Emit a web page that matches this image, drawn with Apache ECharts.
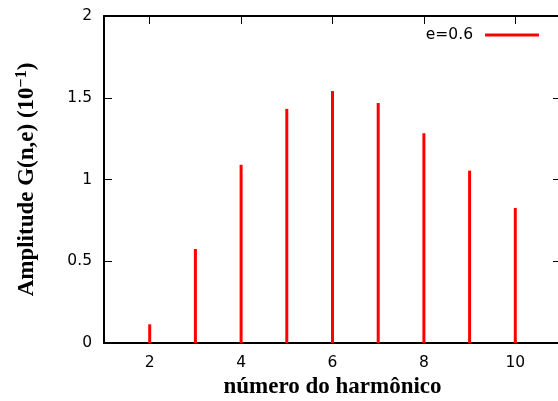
<!DOCTYPE html>
<html>
<head>
<meta charset="utf-8">
<script src="https://cdn.jsdelivr.net/npm/echarts@6/dist/echarts.min.js"></script>
<style>
html,body{margin:0;padding:0;background:#fff;}
#chart{width:558px;height:401px;}
</style>
</head>
<body>
<div id="chart"></div>
<script>
const harmonics = [2, 3, 4, 5, 6, 7, 8, 9, 10];
const amplitudes = [0.114, 0.575, 1.09, 1.432, 1.541, 1.468, 1.283, 1.054, 0.826];
const xTicks = [2, 4, 6, 8, 10];
const yTicks = [0, 0.5, 1, 1.5, 2];
const seriesName = 'e=0.6';

const chart = echarts.init(document.getElementById('chart'), null, {renderer: 'canvas'});
const sans = '"DejaVu Sans", sans-serif';
const serif = '"Liberation Serif", "Times New Roman", serif';
const axisLineStyle = {color: '#000', width: 2};

chart.setOption({
  animation: false,
  backgroundColor: '#fff',
  grid: {left: 104, top: 16, width: 457, bottom: 58, containLabel: false, outerBoundsMode: 'none'},
  legend: {
    data: [seriesName],
    right: 14,
    top: 22,
    align: 'right',
    icon: 'rect',
    itemWidth: 54,
    itemHeight: 3,
    textStyle: {fontFamily: sans, fontSize: 15.5, color: '#000', padding: [0, 7, 0, 0]}
  },
  xAxis: [{
    type: 'value', min: 1, max: 11,
    name: 'número do harmônico',
    nameLocation: 'middle', nameGap: 30,
    nameTextStyle: {fontFamily: serif, fontSize: 23, fontWeight: 'bold', color: '#000'},
    axisLine: {show: true, onZero: false, lineStyle: axisLineStyle},
    axisTick: {show: true, inside: true, length: 8, customValues: xTicks, lineStyle: {color: '#000', width: 1}},
    axisLabel: {customValues: xTicks, fontFamily: sans, fontSize: 15.5, color: '#000', margin: 12},
    splitLine: {show: false}
  }, {
    type: 'value', min: 1, max: 11, position: 'top',
    axisLine: {show: true, onZero: false, lineStyle: axisLineStyle},
    axisTick: {show: true, inside: true, length: 8, customValues: xTicks, lineStyle: {color: '#000', width: 1}},
    axisLabel: {show: false},
    splitLine: {show: false}
  }],
  yAxis: [{
    type: 'value', min: 0, max: 2, interval: 0.5,
    name: 'Amplitude G(n,e) (10{sup|−1})',
    nameLocation: 'middle', nameGap: 64, nameRotate: 90,
    nameTextStyle: {
      fontFamily: serif, fontSize: 23, fontWeight: 'bold', color: '#000',
      rich: {sup: {fontFamily: serif, fontSize: 16, fontWeight: 'bold', color: '#000', verticalAlign: 'top', padding: [0, 0, 10, 0]}}
    },
    axisLine: {show: true, onZero: false, lineStyle: axisLineStyle},
    axisTick: {show: true, inside: true, length: 8, lineStyle: {color: '#000', width: 1}},
    axisLabel: {fontFamily: sans, fontSize: 15.5, color: '#000', margin: 12},
    splitLine: {show: false}
  }, {
    type: 'value', min: 0, max: 2, interval: 0.5, position: 'right',
    axisLine: {show: true, onZero: false, lineStyle: axisLineStyle},
    axisTick: {show: true, inside: true, length: 8, lineStyle: {color: '#000', width: 1}},
    axisLabel: {show: false},
    splitLine: {show: false}
  }],
  series: [{
    name: seriesName,
    type: 'bar',
    xAxisIndex: 0, yAxisIndex: 0,
    barWidth: 3,
    itemStyle: {color: '#ff0000'},
    data: harmonics.map((h, i) => [h, amplitudes[i]])
  }]
});
</script>
</body>
</html>
